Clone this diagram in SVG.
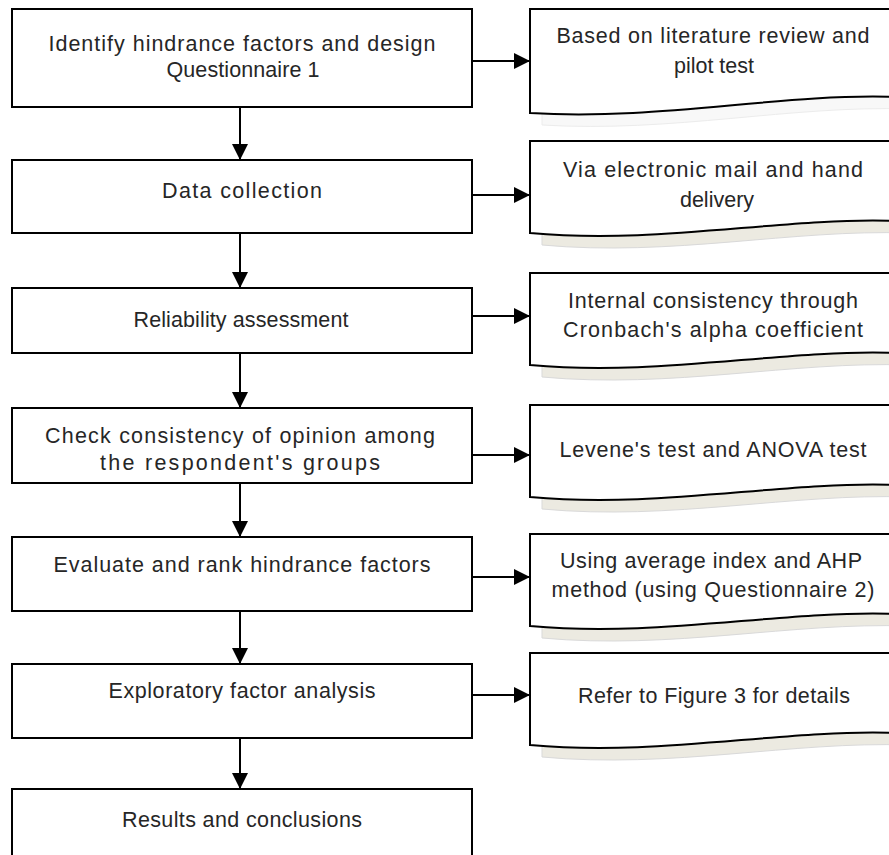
<svg xmlns="http://www.w3.org/2000/svg" width="889" height="855" viewBox="0 0 889 855">
<style>
.box{fill:#fff;stroke:#000;stroke-width:2}
.doc{fill:#fff;stroke:#000;stroke-width:2}
.shadow{fill:#ECEAE1;stroke:#d9d9d9;stroke-width:1}
.shadow1{fill:#f8f8f8;stroke:#ececec;stroke-width:1}
.t{font-family:"Liberation Sans",Arial,sans-serif;font-size:21.5px;fill:#262626;text-anchor:middle}
.conn{stroke:#000;stroke-width:2;fill:none}
</style>
<defs>
<marker id="ah" viewBox="0 0 16 16" refX="16" refY="8" markerWidth="16" markerHeight="16" markerUnits="userSpaceOnUse" orient="auto">
<path d="M0,0 L16,8 L0,16 Z" fill="#000"/>
</marker>
</defs>

<g id="connectors">
<line class="conn" x1="240" y1="107" x2="240" y2="160" marker-end="url(#ah)"/>
<line class="conn" x1="240" y1="233" x2="240" y2="288" marker-end="url(#ah)"/>
<line class="conn" x1="240" y1="353" x2="240" y2="408" marker-end="url(#ah)"/>
<line class="conn" x1="240" y1="483" x2="240" y2="537" marker-end="url(#ah)"/>
<line class="conn" x1="240" y1="611" x2="240" y2="664" marker-end="url(#ah)"/>
<line class="conn" x1="240" y1="738" x2="240" y2="789" marker-end="url(#ah)"/>
<line class="conn" x1="472" y1="61" x2="530" y2="61" marker-end="url(#ah)"/>
<line class="conn" x1="472" y1="195" x2="530" y2="195" marker-end="url(#ah)"/>
<line class="conn" x1="472" y1="316" x2="530" y2="316" marker-end="url(#ah)"/>
<line class="conn" x1="472" y1="455" x2="530" y2="455" marker-end="url(#ah)"/>
<line class="conn" x1="472" y1="577" x2="530" y2="577" marker-end="url(#ah)"/>
<line class="conn" x1="472" y1="695" x2="530" y2="695" marker-end="url(#ah)"/>
</g>

<g id="box1">
<rect class="box" x="12" y="9" width="460" height="98"/>
<text class="t" x="242" y="51" textLength="387" lengthAdjust="spacing">Identify hindrance factors and design</text>
<text class="t" x="243" y="77" textLength="153" lengthAdjust="spacing">Questionnaire 1</text>
</g>
<g id="box2">
<rect class="box" x="12" y="160" width="460" height="73"/>
<text class="t" x="242" y="198" textLength="160" lengthAdjust="spacing">Data collection</text>
</g>
<g id="box3">
<rect class="box" x="12" y="288" width="460" height="65"/>
<text class="t" x="241" y="327" textLength="215" lengthAdjust="spacing">Reliability assessment</text>
</g>
<g id="box4">
<rect class="box" x="12" y="408" width="460" height="75"/>
<text class="t" x="240" y="443" textLength="390" lengthAdjust="spacing">Check consistency of opinion among</text>
<text class="t" x="240" y="470" textLength="280" lengthAdjust="spacing">the respondent's groups</text>
</g>
<g id="box5">
<rect class="box" x="12" y="537" width="460" height="74"/>
<text class="t" x="242" y="572" textLength="377" lengthAdjust="spacing">Evaluate and rank hindrance factors</text>
</g>
<g id="box6">
<rect class="box" x="12" y="664" width="460" height="74"/>
<text class="t" x="242" y="698" textLength="267" lengthAdjust="spacing">Exploratory factor analysis</text>
</g>
<g id="box7">
<rect class="box" x="12" y="789" width="460" height="80"/>
<text class="t" x="242" y="827" textLength="240" lengthAdjust="spacing">Results and conclusions</text>
</g>

<g id="doc1">
<path class="shadow1" d="M542,21 H908 V109 C792,105 672,133 542,125 Z"/>
<path class="doc" d="M530,9 H896 V97 C780,93 660,121 530,113 Z"/>
<text class="t" x="713" y="43" textLength="313" lengthAdjust="spacing">Based on literature review and</text>
<text class="t" x="714" y="73">pilot test</text>
</g>
<g id="doc2">
<path class="shadow" d="M542,153 H908 V233 C792,229 672,257 542,245 Z"/>
<path class="doc" d="M530,141 H896 V221 C780,217 660,245 530,233 Z"/>
<text class="t" x="713" y="177" textLength="300" lengthAdjust="spacing">Via electronic mail and hand</text>
<text class="t" x="717" y="207">delivery</text>
</g>
<g id="doc3">
<path class="shadow" d="M542,285 H908 V365 C792,361 672,389 542,377 Z"/>
<path class="doc" d="M530,273 H896 V353 C780,349 660,377 530,365 Z"/>
<text class="t" x="713" y="308" textLength="290" lengthAdjust="spacing">Internal consistency through</text>
<text class="t" x="713" y="337" textLength="300" lengthAdjust="spacing">Cronbach's alpha coefficient</text>
</g>
<g id="doc4">
<path class="shadow" d="M542,417 H908 V497 C792,493 672,521 542,509 Z"/>
<path class="doc" d="M530,405 H896 V485 C780,481 660,509 530,497 Z"/>
<text class="t" x="713" y="457" textLength="307" lengthAdjust="spacing">Levene's test and ANOVA test</text>
</g>
<g id="doc5">
<path class="shadow" d="M542,546 H908 V626 C792,622 672,650 542,638 Z"/>
<path class="doc" d="M530,534 H896 V614 C780,610 660,638 530,626 Z"/>
<text class="t" x="711" y="568" textLength="302" lengthAdjust="spacing">Using average index and AHP</text>
<text class="t" x="713" y="597" textLength="323" lengthAdjust="spacing">method (using Questionnaire 2)</text>
</g>
<g id="doc6">
<path class="shadow" d="M542,665 H908 V745 C792,741 672,769 542,757 Z"/>
<path class="doc" d="M530,653 H896 V733 C780,729 660,757 530,745 Z"/>
<text class="t" x="714" y="703" textLength="272" lengthAdjust="spacing">Refer to Figure 3 for details</text>
</g>
</svg>
